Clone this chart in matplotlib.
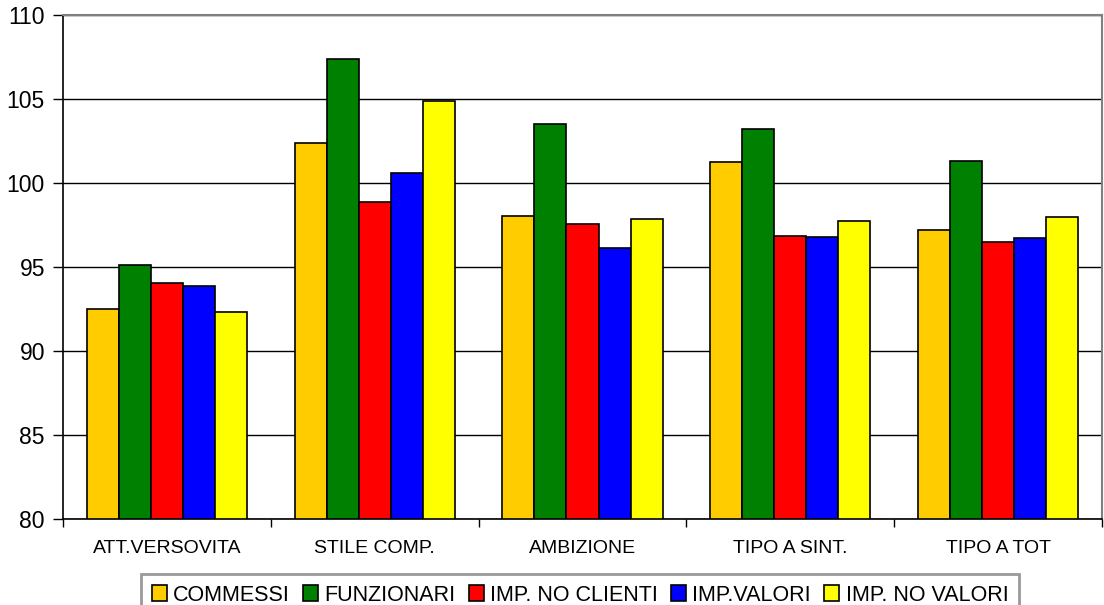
import numpy as np
import matplotlib.pyplot as plt
from matplotlib.patches import Patch

categories = ["ATT.VERSOVITA", "STILE COMP.", "AMBIZIONE", "TIPO A SINT.", "TIPO A TOT"]
series_names = ["COMMESSI", "FUNZIONARI", "IMP. NO CLIENTI", "IMP.VALORI", "IMP. NO VALORI"]
commessi = [92.48, 102.40, 98.02, 101.23, 97.18]
funzionari = [95.12, 107.38, 103.51, 103.23, 101.29]
imp_no_clienti = [94.05, 98.89, 97.56, 96.83, 96.49]
imp_valori = [93.87, 100.61, 96.11, 96.79, 96.74]
imp_no_valori = [92.30, 104.88, 97.84, 97.74, 97.98]
colors = ["#FFCC00", "#008000", "#FF0000", "#0000FF", "#FFFF00"]

series = [commessi, funzionari, imp_no_clienti, imp_valori, imp_no_valori]

fig = plt.figure(figsize=(11.04, 6.05), dpi=100)
ax = fig.add_axes([63 / 1104, 1 - 519 / 605, 1039 / 1104, 504 / 605])

x = np.arange(len(categories))
w = 0.154
for i, (vals, col) in enumerate(zip(series, colors)):
    ax.bar(x + (i - 2) * w, np.array(vals) - 80, bottom=80, width=w, color=col,
           edgecolor="black", linewidth=1.2, zorder=3)

ax.set_xlim(-0.5, len(categories) - 0.5)
ax.set_ylim(80, 110)
ax.set_yticks(np.arange(80, 111, 5))
ax.yaxis.grid(True, color="black", linewidth=1.0, zorder=0)
ax.set_axisbelow(True)

ax.set_xticks(x)
ax.set_xticklabels(categories, fontsize=14, fontfamily="Liberation Sans")
ax.tick_params(axis="x", which="major", length=0, pad=15)
ax.set_xticks(np.arange(-0.5, len(categories)), minor=True)
ax.tick_params(axis="x", which="minor", length=6, width=1, direction="out")
ax.tick_params(axis="y", length=7, width=1, direction="out", pad=6)
for lab in ax.get_yticklabels():
    lab.set_fontsize(16.5)
    lab.set_fontfamily("Liberation Sans")

for s in ["top", "right"]:
    ax.spines[s].set_color("#808080")
    ax.spines[s].set_linewidth(1.5)
for s in ["left", "bottom"]:
    ax.spines[s].set_color("black")
    ax.spines[s].set_linewidth(1.2)

# legend sits at the bottom edge; its lower frame runs past the canvas
handles = [Patch(facecolor=c, edgecolor="black", linewidth=1.2) for c in colors]
leg = fig.legend(handles, series_names, loc="upper center",
                 bbox_to_anchor=(580 / 1104, 1 - 574 / 605), ncol=5,
                 prop={"family": "Liberation Sans", "size": 15.5},
                 handlelength=0.7, handleheight=0.75, handletextpad=0.3,
                 columnspacing=0.6, borderpad=0.5, borderaxespad=0,
                 fancybox=False, frameon=True)
leg.get_frame().set_edgecolor("#808080")
leg.get_frame().set_linewidth(2)

fig.savefig("out.png", dpi=100)
